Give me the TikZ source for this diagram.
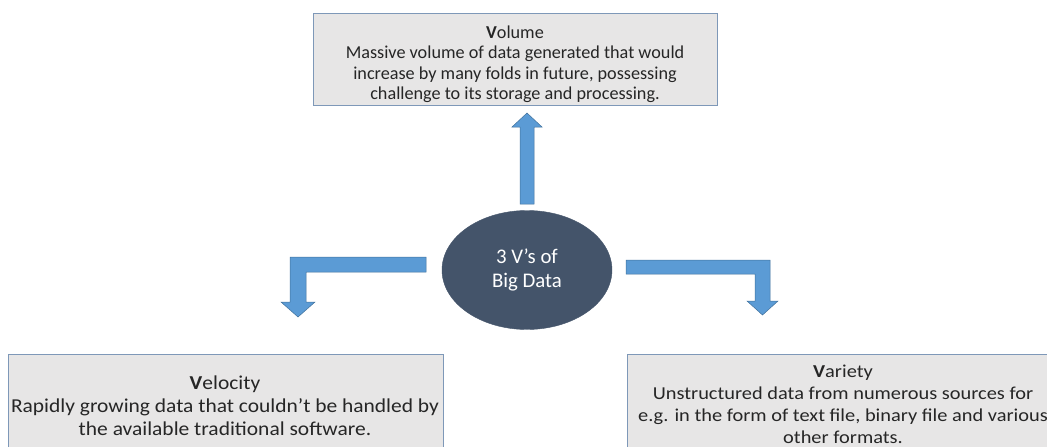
\documentclass[tikz,border=0pt]{standalone}
\usepackage{fontspec}
\setmainfont{Carlito}
\newfontfamily\widefont[FakeStretch=1.09]{Carlito}
\newfontfamily\widerfont[FakeStretch=1.12]{Carlito}
\usetikzlibrary{shapes.geometric}
\definecolor{boxfill}{HTML}{E7E6E6}
\definecolor{boxline}{HTML}{7E98B8}
\definecolor{arrowfill}{HTML}{5B9BD5}
\definecolor{arrowline}{HTML}{41719C}
\definecolor{corefill}{HTML}{44546A}
\tikzset{
  infobox/.style={draw=boxline, fill=boxfill, line width=1pt},
  infotext/.style={align=center, text=black!85, inner sep=0pt},
  bigarrow/.style={fill=arrowfill, draw=arrowline, line width=0.5pt, line join=miter},
  core/.style={ellipse, fill=corefill, draw=corefill, minimum width=170pt, minimum height=119pt,
               text=white, align=center, inner sep=0pt, font=\fontsize{20.8}{24.5}\selectfont}
}
\begin{document}
\begin{tikzpicture}[x=1pt, y=-1pt]
\useasboundingbox (0,0) rectangle (1047,447);
\clip (0,0) rectangle (1047,447);

% boxes for the three V's
\draw[infobox] (313,13) rectangle (717,105);
\node[infotext, font=\fontsize{18.2}{20.5}\selectfont] (volume) at (515,64)
  {\textbf{V}olume\\Massive volume of data generated that would\\increase by many folds in future, possessing\\challenge to its storage and processing.};

\draw[infobox] (8,354) rectangle (443,460);
\node[infotext, font=\widefont\fontsize{19.7}{23}\selectfont] (velocity) at (225,406)
  {\textbf{V}elocity\\Rapidly growing data that couldn’t be handled by\\the available traditional software.};

\draw[infobox] (627,354) rectangle (1062,460);
\node[infotext, font=\widerfont\fontsize{18.2}{21.8}\selectfont] (variety) at (843,404.5)
  {\textbf{V}ariety\\Unstructured data from numerous sources for\\e.g. in the form of text file, binary file and various\\other formats.};

% centre
\node[core] (hub) at (527,270) {3 V’s of\\Big Data};

% arrow up to Volume
\draw[bigarrow] (520,204) -- (520,127) -- (512,127) -- (527,113) -- (542,127) -- (534,127) -- (534,204) -- cycle;

% elbow arrow to Velocity
\draw[bigarrow] (426,257) -- (290,257) -- (290,302) -- (281,302) -- (298,317) -- (315,302)
  -- (306,302) -- (306,272) -- (426,272) -- cycle;

% elbow arrow to Variety
\draw[bigarrow] (626,260) -- (770,260) -- (770,301) -- (778,301) -- (762.5,315) -- (747,301)
  -- (755,301) -- (755,274) -- (626,274) -- cycle;
\end{tikzpicture}
\end{document}
